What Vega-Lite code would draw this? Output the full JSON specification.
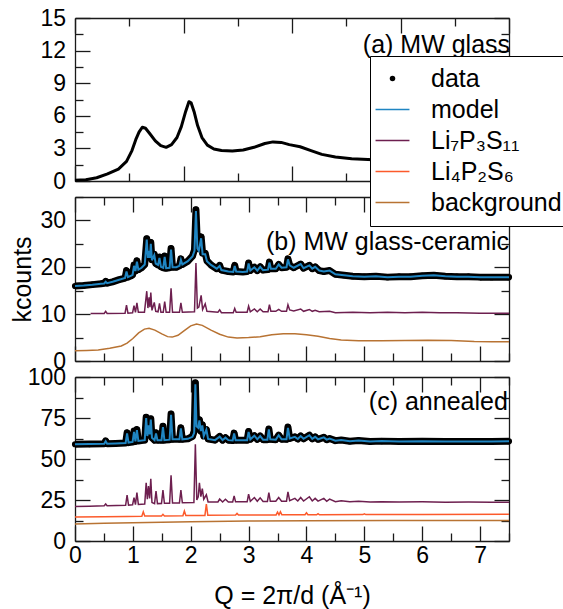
{
"$schema": "https://vega.github.io/schema/vega-lite/v6.json",
"padding": {"left": 10, "top": 7, "right": 0, "bottom": 0},
"spacing": 16,
"bounds": "flush",
"config": {
  "font": "Liberation Sans",
  "view": {"stroke": null},
  "axis": {"domainColor": "#1a1a1a", "domainWidth": 1.3, "tickColor": "#1a1a1a", "tickWidth": 1.3, "labelFontSize": 23, "labelColor": "black", "titleFontSize": 25, "titleFontWeight": "normal", "titleColor": "black", "grid": false, "labelFont": "Liberation Sans", "titleFont": "Liberation Sans", "labelOverlap": false, "labelFlush": false}
},
"datasets": {
  "a": [{"Q":0,"I":0.08},{"Q":0.2,"I":0.12},{"Q":0.4,"I":0.3},{"Q":0.6,"I":0.65},{"Q":0.8,"I":1.1},{"Q":0.95,"I":1.8},{"Q":1.05,"I":2.8},{"Q":1.12,"I":3.8},{"Q":1.18,"I":4.5},{"Q":1.24,"I":4.95},{"Q":1.3,"I":4.85},{"Q":1.38,"I":4.35},{"Q":1.48,"I":3.7},{"Q":1.58,"I":3.25},{"Q":1.68,"I":3.1},{"Q":1.78,"I":3.35},{"Q":1.88,"I":4.0},{"Q":1.96,"I":5.0},{"Q":2.04,"I":6.4},{"Q":2.1,"I":7.3},{"Q":2.14,"I":7.2},{"Q":2.2,"I":6.3},{"Q":2.26,"I":5.1},{"Q":2.34,"I":4.0},{"Q":2.44,"I":3.3},{"Q":2.56,"I":2.95},{"Q":2.7,"I":2.8},{"Q":2.9,"I":2.75},{"Q":3.1,"I":2.85},{"Q":3.3,"I":3.1},{"Q":3.5,"I":3.45},{"Q":3.65,"I":3.6},{"Q":3.8,"I":3.55},{"Q":3.95,"I":3.35},{"Q":4.15,"I":3.15},{"Q":4.35,"I":2.8},{"Q":4.55,"I":2.45},{"Q":4.8,"I":2.2},{"Q":5.1,"I":2.05},{"Q":5.5,"I":1.95},{"Q":6.0,"I":1.9},{"Q":6.5,"I":1.85},{"Q":7.0,"I":1.8},{"Q":7.5,"I":1.8},{"Q":8,"I":1.8}],
  "bm": [{"Q":0,"m":16.0,"d":16.0},{"Q":0.15,"m":16.1,"d":16.1},{"Q":0.3,"m":16.25,"d":16.3},{"Q":0.45,"m":16.5,"d":16.5},{"Q":0.505,"m":16.55,"d":16.6},{"Q":0.53,"m":16.9,"d":17.0},{"Q":0.555,"m":16.6,"d":16.6},{"Q":0.65,"m":16.9,"d":16.9},{"Q":0.75,"m":17.3,"d":17.3},{"Q":0.865,"m":17.7,"d":17.7},{"Q":0.89,"m":19.1,"d":19.3},{"Q":0.915,"m":17.9,"d":17.9},{"Q":0.97,"m":18.2,"d":18.2},{"Q":0.995,"m":18.4,"d":18.4},{"Q":1.02,"m":20.3,"d":20.5},{"Q":1.045,"m":19.2,"d":19.2},{"Q":1.07,"m":21.2,"d":21.4},{"Q":1.095,"m":19.5,"d":19.5},{"Q":1.15,"m":19.9,"d":19.9},{"Q":1.205,"m":20.6,"d":20.6},{"Q":1.24,"m":25.9,"d":26.1},{"Q":1.26,"m":22.0,"d":22.2},{"Q":1.28,"m":23.5,"d":23.8},{"Q":1.295,"m":22.0,"d":22.2},{"Q":1.31,"m":25.0,"d":25.3},{"Q":1.33,"m":21.5,"d":21.6},{"Q":1.37,"m":22.6,"d":22.8},{"Q":1.395,"m":20.8,"d":20.8},{"Q":1.435,"m":20.5,"d":20.5},{"Q":1.46,"m":22.0,"d":22.2},{"Q":1.485,"m":20.1,"d":20.1},{"Q":1.525,"m":19.9,"d":19.9},{"Q":1.55,"m":22.2,"d":22.4},{"Q":1.575,"m":19.8,"d":19.8},{"Q":1.635,"m":19.9,"d":19.9},{"Q":1.66,"m":23.8,"d":24.0},{"Q":1.685,"m":20.0,"d":20.0},{"Q":1.75,"m":20.0,"d":20.0},{"Q":1.805,"m":20.3,"d":20.3},{"Q":1.83,"m":21.6,"d":21.8},{"Q":1.855,"m":20.6,"d":20.6},{"Q":1.95,"m":21.3,"d":21.3},{"Q":2.03,"m":22.3,"d":22.4},{"Q":2.065,"m":23.5,"d":23.7},{"Q":2.09,"m":32.0,"d":32.3},{"Q":2.115,"m":24.0,"d":25.0},{"Q":2.14,"m":23.5,"d":24.0},{"Q":2.18,"m":26.2,"d":26.5},{"Q":2.205,"m":22.8,"d":23.0},{"Q":2.25,"m":22.8,"d":23.0},{"Q":2.28,"m":21.3,"d":21.4},{"Q":2.35,"m":20.5,"d":20.5},{"Q":2.45,"m":19.7,"d":19.7},{"Q":2.5,"m":20.3,"d":20.4},{"Q":2.53,"m":19.4,"d":19.4},{"Q":2.65,"m":19.1,"d":19.1},{"Q":2.735,"m":19.0,"d":19.0},{"Q":2.76,"m":20.3,"d":20.4},{"Q":2.785,"m":19.1,"d":19.1},{"Q":2.9,"m":19.0,"d":19.0},{"Q":2.975,"m":19.1,"d":19.1},{"Q":3.0,"m":20.8,"d":20.9},{"Q":3.03,"m":19.3,"d":19.3},{"Q":3.1,"m":20.0,"d":20.0},{"Q":3.15,"m":19.3,"d":19.3},{"Q":3.2,"m":20.1,"d":20.1},{"Q":3.25,"m":19.4,"d":19.4},{"Q":3.335,"m":19.5,"d":19.5},{"Q":3.36,"m":21.0,"d":21.1},{"Q":3.385,"m":19.7,"d":19.7},{"Q":3.47,"m":19.7,"d":19.7},{"Q":3.52,"m":20.6,"d":20.6},{"Q":3.57,"m":19.9,"d":19.9},{"Q":3.655,"m":20.0,"d":20.0},{"Q":3.68,"m":21.7,"d":21.8},{"Q":3.71,"m":20.4,"d":20.4},{"Q":3.78,"m":19.9,"d":19.9},{"Q":3.9,"m":20.7,"d":20.7},{"Q":3.95,"m":19.8,"d":19.8},{"Q":4.05,"m":20.4,"d":20.4},{"Q":4.1,"m":19.7,"d":19.7},{"Q":4.15,"m":20.1,"d":20.1},{"Q":4.22,"m":19.3,"d":19.3},{"Q":4.3,"m":19.1,"d":19.1},{"Q":4.4,"m":19.3,"d":19.3},{"Q":4.5,"m":18.5,"d":18.5},{"Q":4.65,"m":18.3,"d":18.3},{"Q":4.8,"m":18.1,"d":18.1},{"Q":5.0,"m":18.0,"d":18.0},{"Q":5.2,"m":18.1,"d":18.1},{"Q":5.4,"m":17.9,"d":17.9},{"Q":5.6,"m":18.0,"d":18.0},{"Q":5.8,"m":18.0,"d":18.0},{"Q":6.0,"m":18.2,"d":18.2},{"Q":6.2,"m":18.3,"d":18.3},{"Q":6.4,"m":18.1,"d":18.1},{"Q":6.6,"m":18.0,"d":18.0},{"Q":6.8,"m":18.0,"d":18.0},{"Q":7.0,"m":17.9,"d":17.9},{"Q":7.2,"m":17.9,"d":17.9},{"Q":7.5,"m":17.9,"d":17.9}],
  "bp": [{"Q":0.27,"I":10.15},{"Q":0.505,"I":10.15},{"Q":0.53,"I":10.6},{"Q":0.555,"I":10.15},{"Q":0.865,"I":10.2},{"Q":0.89,"I":11.9},{"Q":0.915,"I":10.2},{"Q":0.995,"I":10.3},{"Q":1.02,"I":11.8},{"Q":1.045,"I":10.4},{"Q":1.07,"I":12.4},{"Q":1.095,"I":10.4},{"Q":1.2,"I":10.4},{"Q":1.24,"I":14.9},{"Q":1.26,"I":11.3},{"Q":1.28,"I":13.6},{"Q":1.295,"I":11.5},{"Q":1.31,"I":14.6},{"Q":1.33,"I":10.8},{"Q":1.37,"I":12.5},{"Q":1.395,"I":10.6},{"Q":1.435,"I":10.5},{"Q":1.46,"I":12.3},{"Q":1.485,"I":10.4},{"Q":1.525,"I":10.4},{"Q":1.55,"I":12.7},{"Q":1.575,"I":10.4},{"Q":1.635,"I":10.4},{"Q":1.66,"I":15.5},{"Q":1.685,"I":10.4},{"Q":1.805,"I":10.4},{"Q":1.83,"I":12.4},{"Q":1.855,"I":10.4},{"Q":2.065,"I":10.5},{"Q":2.09,"I":20.9},{"Q":2.115,"I":11.3},{"Q":2.14,"I":11.5},{"Q":2.18,"I":14.0},{"Q":2.205,"I":11.0},{"Q":2.25,"I":12.2},{"Q":2.28,"I":10.6},{"Q":2.47,"I":10.4},{"Q":2.5,"I":10.9},{"Q":2.53,"I":10.3},{"Q":2.735,"I":10.3},{"Q":2.76,"I":11.2},{"Q":2.785,"I":10.4},{"Q":2.975,"I":10.4},{"Q":3.0,"I":11.7},{"Q":3.03,"I":10.5},{"Q":3.1,"I":11.1},{"Q":3.15,"I":10.5},{"Q":3.2,"I":11.1},{"Q":3.25,"I":10.5},{"Q":3.335,"I":10.5},{"Q":3.36,"I":12.0},{"Q":3.385,"I":10.6},{"Q":3.47,"I":10.6},{"Q":3.52,"I":11.0},{"Q":3.57,"I":10.6},{"Q":3.655,"I":10.6},{"Q":3.68,"I":12.0},{"Q":3.71,"I":10.9},{"Q":3.78,"I":10.7},{"Q":3.9,"I":11.1},{"Q":3.95,"I":10.6},{"Q":4.05,"I":11.0},{"Q":4.1,"I":10.6},{"Q":4.15,"I":10.8},{"Q":4.22,"I":10.5},{"Q":4.4,"I":10.6},{"Q":4.5,"I":10.3},{"Q":4.8,"I":10.4},{"Q":5.1,"I":10.3},{"Q":5.4,"I":10.4},{"Q":5.7,"I":10.3},{"Q":6.0,"I":10.4},{"Q":6.3,"I":10.3},{"Q":6.6,"I":10.3},{"Q":7.0,"I":10.2},{"Q":7.5,"I":10.2}],
  "bg": [{"Q":0,"I":2.2},{"Q":0.2,"I":2.25},{"Q":0.4,"I":2.35},{"Q":0.6,"I":2.7},{"Q":0.8,"I":3.2},{"Q":0.9,"I":3.8},{"Q":1.0,"I":4.8},{"Q":1.1,"I":6.0},{"Q":1.2,"I":6.8},{"Q":1.28,"I":7.0},{"Q":1.38,"I":6.6},{"Q":1.5,"I":5.8},{"Q":1.6,"I":5.2},{"Q":1.68,"I":5.1},{"Q":1.78,"I":5.5},{"Q":1.9,"I":6.6},{"Q":2.0,"I":7.5},{"Q":2.1,"I":7.9},{"Q":2.2,"I":7.6},{"Q":2.35,"I":6.6},{"Q":2.5,"I":5.7},{"Q":2.65,"I":5.1},{"Q":2.8,"I":4.9},{"Q":3.0,"I":5.0},{"Q":3.2,"I":5.2},{"Q":3.4,"I":5.6},{"Q":3.6,"I":5.8},{"Q":3.8,"I":5.8},{"Q":4.0,"I":5.6},{"Q":4.2,"I":5.3},{"Q":4.4,"I":4.8},{"Q":4.6,"I":4.5},{"Q":4.9,"I":4.3},{"Q":5.3,"I":4.3},{"Q":5.7,"I":4.35},{"Q":6.1,"I":4.45},{"Q":6.5,"I":4.4},{"Q":6.9,"I":4.15},{"Q":7.2,"I":4.1},{"Q":7.5,"I":4.1}],
  "cm": [{"Q":0,"m":59.0,"d":59.0},{"Q":0.25,"m":59.1,"d":59.1},{"Q":0.505,"m":59.3,"d":59.3},{"Q":0.53,"m":60.8,"d":61.0},{"Q":0.555,"m":59.3,"d":59.3},{"Q":0.7,"m":59.5,"d":59.5},{"Q":0.875,"m":59.8,"d":59.8},{"Q":0.9,"m":65.6,"d":66.0},{"Q":0.925,"m":60.0,"d":60.0},{"Q":0.995,"m":60.4,"d":60.4},{"Q":1.02,"m":66.5,"d":67.0},{"Q":1.045,"m":60.7,"d":60.7},{"Q":1.07,"m":67.6,"d":68.0},{"Q":1.095,"m":61.0,"d":61.0},{"Q":1.205,"m":61.5,"d":61.5},{"Q":1.23,"m":75.0,"d":75.5},{"Q":1.25,"m":64.0,"d":64.5},{"Q":1.27,"m":70.5,"d":71.0},{"Q":1.29,"m":65.0,"d":65.5},{"Q":1.31,"m":74.0,"d":74.5},{"Q":1.33,"m":63.0,"d":63.0},{"Q":1.375,"m":61.5,"d":61.5},{"Q":1.4,"m":65.5,"d":66.0},{"Q":1.425,"m":61.5,"d":61.5},{"Q":1.495,"m":61.5,"d":61.5},{"Q":1.52,"m":69.5,"d":70.0},{"Q":1.545,"m":61.5,"d":61.5},{"Q":1.635,"m":61.8,"d":61.8},{"Q":1.66,"m":77.0,"d":77.5},{"Q":1.685,"m":62.0,"d":62.0},{"Q":1.805,"m":62.0,"d":62.0},{"Q":1.83,"m":68.7,"d":69.0},{"Q":1.855,"m":62.0,"d":62.0},{"Q":1.95,"m":62.3,"d":62.3},{"Q":2.03,"m":63.5,"d":63.8},{"Q":2.06,"m":66.0,"d":67.0},{"Q":2.08,"m":95.5,"d":96.5},{"Q":2.1,"m":70.0,"d":72.0},{"Q":2.13,"m":69.0,"d":69.5},{"Q":2.15,"m":73.5,"d":74.0},{"Q":2.175,"m":67.0,"d":67.0},{"Q":2.2,"m":70.5,"d":71.0},{"Q":2.225,"m":64.0,"d":64.0},{"Q":2.27,"m":67.8,"d":68.0},{"Q":2.3,"m":62.2,"d":62.2},{"Q":2.42,"m":61.5,"d":61.5},{"Q":2.5,"m":63.6,"d":63.8},{"Q":2.55,"m":61.5,"d":61.5},{"Q":2.6,"m":63.0,"d":63.0},{"Q":2.65,"m":61.5,"d":61.5},{"Q":2.725,"m":61.3,"d":61.3},{"Q":2.75,"m":65.5,"d":65.8},{"Q":2.775,"m":61.5,"d":61.5},{"Q":2.975,"m":61.5,"d":61.5},{"Q":3.0,"m":66.5,"d":66.8},{"Q":3.03,"m":62.0,"d":62.0},{"Q":3.1,"m":64.2,"d":64.2},{"Q":3.15,"m":62.0,"d":62.0},{"Q":3.2,"m":64.0,"d":64.0},{"Q":3.25,"m":61.8,"d":61.8},{"Q":3.325,"m":61.8,"d":61.8},{"Q":3.35,"m":68.0,"d":68.3},{"Q":3.375,"m":62.0,"d":62.0},{"Q":3.47,"m":61.8,"d":61.8},{"Q":3.52,"m":64.5,"d":64.5},{"Q":3.57,"m":62.0,"d":62.0},{"Q":3.655,"m":62.0,"d":62.0},{"Q":3.68,"m":69.0,"d":69.5},{"Q":3.71,"m":62.5,"d":62.5},{"Q":3.8,"m":63.5,"d":63.5},{"Q":3.85,"m":62.2,"d":62.2},{"Q":3.9,"m":64.0,"d":64.0},{"Q":3.95,"m":62.3,"d":62.3},{"Q":4.05,"m":64.5,"d":64.5},{"Q":4.1,"m":62.3,"d":62.3},{"Q":4.15,"m":63.5,"d":63.5},{"Q":4.2,"m":62.0,"d":62.0},{"Q":4.3,"m":63.2,"d":63.2},{"Q":4.35,"m":61.8,"d":61.8},{"Q":4.4,"m":62.5,"d":62.5},{"Q":4.5,"m":61.2,"d":61.2},{"Q":4.6,"m":61.6,"d":61.6},{"Q":4.75,"m":60.8,"d":60.8},{"Q":4.9,"m":61.3,"d":61.3},{"Q":5.1,"m":60.7,"d":60.7},{"Q":5.3,"m":60.9,"d":60.9},{"Q":5.6,"m":60.6,"d":60.6},{"Q":6.0,"m":60.8,"d":60.8},{"Q":6.4,"m":60.6,"d":60.6},{"Q":6.8,"m":60.7,"d":60.7},{"Q":7.2,"m":60.6,"d":60.6},{"Q":7.5,"m":60.8,"d":60.8}],
  "cp": [{"Q":0,"I":21.0},{"Q":0.25,"I":21.2},{"Q":0.505,"I":21.5},{"Q":0.53,"I":22.6},{"Q":0.555,"I":21.5},{"Q":0.875,"I":21.8},{"Q":0.9,"I":28.0},{"Q":0.925,"I":21.9},{"Q":0.995,"I":22.1},{"Q":1.02,"I":26.5},{"Q":1.045,"I":22.2},{"Q":1.07,"I":29.5},{"Q":1.095,"I":22.3},{"Q":1.205,"I":22.5},{"Q":1.23,"I":35.5},{"Q":1.25,"I":25.5},{"Q":1.27,"I":33.5},{"Q":1.29,"I":26.0},{"Q":1.31,"I":38.0},{"Q":1.33,"I":23.5},{"Q":1.375,"I":22.8},{"Q":1.4,"I":30.5},{"Q":1.425,"I":22.8},{"Q":1.495,"I":22.9},{"Q":1.52,"I":31.0},{"Q":1.545,"I":23.0},{"Q":1.635,"I":23.0},{"Q":1.66,"I":40.0},{"Q":1.685,"I":23.2},{"Q":1.805,"I":23.2},{"Q":1.83,"I":31.0},{"Q":1.855,"I":23.3},{"Q":2.055,"I":23.5},{"Q":2.08,"I":59.0},{"Q":2.105,"I":25.0},{"Q":2.13,"I":27.0},{"Q":2.15,"I":35.5},{"Q":2.175,"I":27.0},{"Q":2.2,"I":32.0},{"Q":2.225,"I":25.5},{"Q":2.27,"I":28.2},{"Q":2.3,"I":23.8},{"Q":2.47,"I":23.8},{"Q":2.5,"I":25.6},{"Q":2.55,"I":23.8},{"Q":2.6,"I":25.5},{"Q":2.65,"I":23.8},{"Q":2.725,"I":23.8},{"Q":2.75,"I":27.5},{"Q":2.775,"I":23.9},{"Q":2.975,"I":23.9},{"Q":3.0,"I":28.5},{"Q":3.03,"I":24.2},{"Q":3.1,"I":26.5},{"Q":3.15,"I":24.2},{"Q":3.2,"I":26.3},{"Q":3.25,"I":24.1},{"Q":3.325,"I":24.1},{"Q":3.35,"I":29.5},{"Q":3.375,"I":24.3},{"Q":3.47,"I":24.2},{"Q":3.52,"I":26.5},{"Q":3.57,"I":24.3},{"Q":3.655,"I":24.3},{"Q":3.68,"I":30.0},{"Q":3.71,"I":24.6},{"Q":3.8,"I":26.0},{"Q":3.85,"I":24.4},{"Q":3.9,"I":26.5},{"Q":3.95,"I":24.4},{"Q":4.05,"I":27.0},{"Q":4.1,"I":24.4},{"Q":4.15,"I":26.0},{"Q":4.2,"I":24.3},{"Q":4.3,"I":26.0},{"Q":4.35,"I":24.2},{"Q":4.4,"I":25.5},{"Q":4.5,"I":24.0},{"Q":4.6,"I":24.6},{"Q":4.75,"I":23.9},{"Q":4.9,"I":24.3},{"Q":5.1,"I":23.8},{"Q":5.3,"I":24.0},{"Q":5.6,"I":23.8},{"Q":6.0,"I":23.9},{"Q":6.4,"I":23.7},{"Q":6.8,"I":23.8},{"Q":7.2,"I":23.7},{"Q":7.5,"I":23.7}],
  "co": [{"Q":0,"I":14.6},{"Q":0.5,"I":14.8},{"Q":0.9,"I":15.0},{"Q":1.155,"I":15.1},{"Q":1.18,"I":17.8},{"Q":1.205,"I":15.2},{"Q":1.495,"I":15.3},{"Q":1.52,"I":16.3},{"Q":1.545,"I":15.3},{"Q":1.865,"I":15.4},{"Q":1.89,"I":18.3},{"Q":1.915,"I":15.5},{"Q":2.245,"I":15.6},{"Q":2.27,"I":22.5},{"Q":2.295,"I":15.7},{"Q":2.775,"I":15.8},{"Q":2.8,"I":16.8},{"Q":2.825,"I":15.8},{"Q":3.475,"I":15.9},{"Q":3.5,"I":17.6},{"Q":3.525,"I":16.0},{"Q":3.55,"I":17.8},{"Q":3.575,"I":16.0},{"Q":3.975,"I":16.0},{"Q":4.0,"I":17.2},{"Q":4.025,"I":16.0},{"Q":4.175,"I":16.0},{"Q":4.2,"I":16.7},{"Q":4.225,"I":16.0},{"Q":4.975,"I":16.1},{"Q":5.0,"I":16.5},{"Q":5.025,"I":16.1},{"Q":6.0,"I":16.2},{"Q":7.5,"I":16.3}],
  "cg": [{"Q":0,"I":10.3},{"Q":0.5,"I":10.8},{"Q":1.0,"I":11.2},{"Q":1.5,"I":11.5},{"Q":2.0,"I":11.8},{"Q":3.0,"I":12.2},{"Q":4.0,"I":12.4},{"Q":5.5,"I":12.5},{"Q":7.5,"I":12.5}]
},
"vconcat": [
  {
    "width": 434, "height": 163,
    "layer": [
      {"data": {"name": "a"}, "mark": {"type": "line", "color": "black", "strokeWidth": 3, "strokeJoin": "round"},
       "encoding": {
         "x": {"field": "Q", "type": "quantitative", "scale": {"domain": [0, 8], "nice": false},
               "axis": {"orient": "bottom", "values": [0,1,2,3,4,5,6,7,8], "labels": false, "title": null, "tickSize": {"condition": {"test": "datum.value % 2 === 0", "value": -15}, "value": -8}}},
         "y": {"field": "I", "type": "quantitative", "scale": {"domain": [0, 15], "nice": false},
               "axis": {"orient": "left", "values": [0,1.5,3,4.5,6,7.5,9,10.5,12,13.5,15], "labelExpr": "datum.value % 3 === 0 ? '' + datum.value : ''", "labelPadding": 24.5, "title": null, "tickSize": {"condition": {"test": "datum.value % 3 === 0", "value": -15}, "value": -8}}}
       }},
      {"data": {"values": [{"Q": 8.02, "I": 12.5, "t": "(a) MW glass"}]}, "mark": {"type": "text", "align": "right", "baseline": "middle", "fontSize": 25, "color": "black"},
       "encoding": {
         "x": {"field": "Q", "type": "quantitative", "axis": {"orient": "top", "values": [0,1,2,3,4,5,6,7,8], "labels": false, "title": null, "tickSize": {"condition": {"test": "datum.value % 2 === 0", "value": -15}, "value": -8}}},
         "y": {"field": "I", "type": "quantitative", "axis": {"orient": "right", "values": [0,1.5,3,4.5,6,7.5,9,10.5,12,13.5,15], "labels": false, "title": null, "tickSize": {"condition": {"test": "datum.value % 3 === 0", "value": -15}, "value": -8}}},
         "text": {"field": "t"}
       }}
    ],
    "resolve": {"axis": {"x": "independent", "y": "independent"}}
  },
  {
    "width": 434, "height": 164,
    "layer": [
      {"data": {"name": "bg"}, "mark": {"type": "line", "strokeWidth": 1.5},
       "encoding": {
         "x": {"field": "Q", "type": "quantitative", "scale": {"domain": [0, 7.5], "nice": false},
               "axis": {"orient": "bottom", "values": [0,0.5,1,1.5,2,2.5,3,3.5,4,4.5,5,5.5,6,6.5,7,7.5], "labels": false, "title": null, "tickSize": {"condition": {"test": "datum.value % 1 === 0", "value": -15}, "value": -8}}},
         "y": {"field": "I", "type": "quantitative", "scale": {"domain": [0, 35], "nice": false},
               "axis": {"orient": "left", "values": [0,5,10,15,20,25,30,35], "labelExpr": "datum.value % 10 === 0 ? '' + datum.value : ''", "labelPadding": 24.5, "title": "kcounts", "titlePadding": 4, "tickSize": {"condition": {"test": "datum.value % 10 === 0", "value": -15}, "value": -8}}},
         "color": {"datum": "background", "type": "nominal",
           "scale": {"domain": ["data","model","Li₇P₃S₁₁","Li₄P₂S₆","background"], "range": ["#000000","#1f85c2","#6d1f4f","#fc5a2b","#b87333"]},
           "legend": {"orient": "none", "legendX": 295, "legendY": 38, "title": null, "symbolType": "stroke", "symbolSize": 1150, "symbolStrokeWidth": 1.5, "labelFontSize": 25, "labelFont": "Liberation Sans", "labelColor": "black", "labelOffset": 26, "padding": 10, "strokeColor": "black", "fillColor": "white", "rowPadding": 5, "labelLimit": 300,
             "encode": {"symbols": {"update": {"shape": {"signal": "datum.value === 'data' ? 'circle' : 'stroke'"}, "size": {"signal": "datum.value === 'data' ? 30 : 1150"}, "fill": {"signal": "datum.value === 'data' ? 'black' : 'transparent'"}, "strokeWidth": {"signal": "datum.value === 'data' ? 0 : 1.5"}}}}}}
       }},
      {"data": {"name": "bp"}, "mark": {"type": "line", "strokeWidth": 1.5},
       "encoding": {
         "x": {"field": "Q", "type": "quantitative", "axis": {"orient": "top", "values": [0,0.5,1,1.5,2,2.5,3,3.5,4,4.5,5,5.5,6,6.5,7,7.5], "labels": false, "title": null, "tickSize": {"condition": {"test": "datum.value % 1 === 0", "value": -15}, "value": -8}}},
         "y": {"field": "I", "type": "quantitative", "axis": {"orient": "right", "values": [0,5,10,15,20,25,30,35], "labels": false, "title": null, "tickSize": {"condition": {"test": "datum.value % 10 === 0", "value": -15}, "value": -8}}},
         "color": {"datum": "Li₇P₃S₁₁", "type": "nominal"}
       }},
      {"data": {"name": "bm"}, "mark": {"type": "line", "color": "black", "strokeWidth": 7, "strokeJoin": "round"},
       "encoding": {"x": {"field": "Q", "type": "quantitative", "axis": null}, "y": {"field": "d", "type": "quantitative", "axis": null}}},
      {"data": {"name": "bm"}, "mark": {"type": "circle", "color": "black", "size": 38, "opacity": 1},
       "encoding": {"x": {"field": "Q", "type": "quantitative", "axis": null}, "y": {"field": "d", "type": "quantitative", "axis": null}}},
      {"data": {"name": "bm"}, "mark": {"type": "line", "strokeWidth": 2},
       "encoding": {"x": {"field": "Q", "type": "quantitative", "axis": null}, "y": {"field": "m", "type": "quantitative", "axis": null}, "color": {"datum": "model", "type": "nominal"}}},
      {"data": {"values": [{"Q": 7.5, "I": 25.5, "t": "(b) MW glass-ceramic"}]}, "mark": {"type": "text", "align": "right", "baseline": "middle", "fontSize": 25, "color": "black"},
       "encoding": {"x": {"field": "Q", "type": "quantitative", "axis": null}, "y": {"field": "I", "type": "quantitative", "axis": null}, "text": {"field": "t"}}}
    ],
    "resolve": {"axis": {"x": "independent", "y": "independent"}}
  },
  {
    "width": 434, "height": 164,
    "layer": [
      {"data": {"name": "cg"}, "mark": {"type": "line", "strokeWidth": 1.5},
       "encoding": {
         "x": {"field": "Q", "type": "quantitative", "scale": {"domain": [0, 7.5], "nice": false},
               "axis": {"orient": "bottom", "values": [0,0.5,1,1.5,2,2.5,3,3.5,4,4.5,5,5.5,6,6.5,7,7.5], "labelExpr": "datum.value % 1 === 0 ? '' + datum.value : ''", "labelPadding": 18.5, "title": "Q = 2π/d (Å⁻¹)", "titlePadding": 9, "tickSize": {"condition": {"test": "datum.value % 1 === 0", "value": -15}, "value": -8}}},
         "y": {"field": "I", "type": "quantitative", "scale": {"domain": [0, 100], "nice": false},
               "axis": {"orient": "left", "values": [0,12.5,25,37.5,50,62.5,75,87.5,100], "labelExpr": "datum.value % 25 === 0 ? '' + datum.value : ''", "labelPadding": 24.5, "title": null, "tickSize": {"condition": {"test": "datum.value % 25 === 0", "value": -15}, "value": -8}}},
         "color": {"datum": "background", "type": "nominal"}
       }},
      {"data": {"name": "co"}, "mark": {"type": "line", "strokeWidth": 1.5},
       "encoding": {"x": {"field": "Q", "type": "quantitative", "axis": null}, "y": {"field": "I", "type": "quantitative", "axis": null}, "color": {"datum": "Li₄P₂S₆", "type": "nominal"}}},
      {"data": {"name": "cp"}, "mark": {"type": "line", "strokeWidth": 1.5},
       "encoding": {
         "x": {"field": "Q", "type": "quantitative", "axis": {"orient": "top", "values": [0,0.5,1,1.5,2,2.5,3,3.5,4,4.5,5,5.5,6,6.5,7,7.5], "labels": false, "title": null, "tickSize": {"condition": {"test": "datum.value % 1 === 0", "value": -15}, "value": -8}}},
         "y": {"field": "I", "type": "quantitative", "axis": {"orient": "right", "values": [0,12.5,25,37.5,50,62.5,75,87.5,100], "labels": false, "title": null, "tickSize": {"condition": {"test": "datum.value % 25 === 0", "value": -15}, "value": -8}}},
         "color": {"datum": "Li₇P₃S₁₁", "type": "nominal"}
       }},
      {"data": {"name": "cm"}, "mark": {"type": "line", "color": "black", "strokeWidth": 7, "strokeJoin": "round"},
       "encoding": {"x": {"field": "Q", "type": "quantitative", "axis": null}, "y": {"field": "d", "type": "quantitative", "axis": null}}},
      {"data": {"name": "cm"}, "mark": {"type": "circle", "color": "black", "size": 38, "opacity": 1},
       "encoding": {"x": {"field": "Q", "type": "quantitative", "axis": null}, "y": {"field": "d", "type": "quantitative", "axis": null}}},
      {"data": {"name": "cm"}, "mark": {"type": "line", "strokeWidth": 2},
       "encoding": {"x": {"field": "Q", "type": "quantitative", "axis": null}, "y": {"field": "m", "type": "quantitative", "axis": null}, "color": {"datum": "model", "type": "nominal"}}},
      {"data": {"values": [{"Q": 7.48, "I": 84.8, "t": "(c) annealed"}]}, "mark": {"type": "text", "align": "right", "baseline": "middle", "fontSize": 25, "color": "black"},
       "encoding": {"x": {"field": "Q", "type": "quantitative", "axis": null}, "y": {"field": "I", "type": "quantitative", "axis": null}, "text": {"field": "t"}}}
    ],
    "resolve": {"axis": {"x": "independent", "y": "independent"}}
  }
]
}
